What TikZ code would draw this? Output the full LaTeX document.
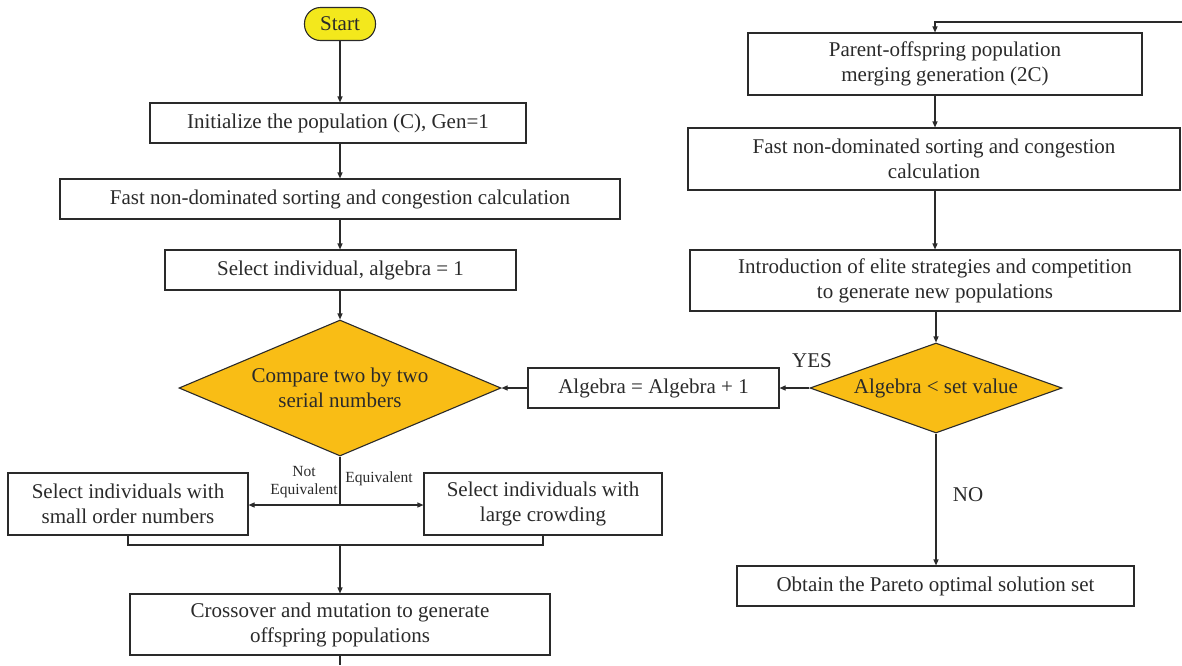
\documentclass[tikz,border=0pt]{standalone}
\usepackage{fontspec}
\setmainfont{Liberation Serif}
\usetikzlibrary{shapes.geometric,arrows.meta}
\definecolor{startyel}{HTML}{F3E81C}
\definecolor{diayel}{HTML}{F9BD15}
\definecolor{ln}{HTML}{2A2A2A}
\begin{document}
\begin{tikzpicture}[x=1pt,y=-1pt,
  every node/.style={font=\fontsize{21}{25}\selectfont, text=ln},
  box/.style={draw=ln, line width=1.1pt, rectangle, inner sep=0pt, align=center},
  dia/.style={draw=ln, line width=1.1pt, diamond, fill=diayel, inner sep=0pt},
  conn/.style={draw=ln, line width=1.1pt},
  arr/.style={conn, -{Triangle[length=6pt,width=5pt]}},
  small/.style={font=\fontsize{15.5}{18}\selectfont}
]
\useasboundingbox (0,0) rectangle (1182,665);
% left column
\node[box, rounded corners=16pt, fill=startyel, minimum width=71pt, minimum height=33pt] (start) at (340,24) {Start};
\node[box, minimum width=376pt, minimum height=40pt] (init) at (338,123) {Initialize the population (C), Gen=1};
\node[box, minimum width=560pt, minimum height=40pt] (fast1) at (340,199) {Fast non-dominated sorting and congestion calculation};
\node[box, minimum width=351pt, minimum height=40pt] (sel) at (340.5,270) {Select individual, algebra = 1};
\node[dia, minimum width=322pt, minimum height=136pt,
  label={[align=center]center:Compare two by two\\serial numbers}] (cmp) at (340,388) {};
\node[box, minimum width=240pt, minimum height=62pt] (smallb) at (128,504) {Select individuals with\\small order numbers};
\node[box, minimum width=238pt, minimum height=62pt] (large) at (543,504) {Select individuals with\\large crowding};
\node[box, minimum width=420pt, minimum height=61pt] (cross) at (340,624.5) {Crossover and mutation to generate\\offspring populations};
\coordinate (split) at (340,505);
\coordinate (merge) at (340,545);
\coordinate (bottomout) at (340,665);
% right column
\node[box, minimum width=394pt, minimum height=62pt] (parent) at (945,64) {Parent-offspring population\\merging generation (2C)};
\node[box, minimum width=492pt, minimum height=62pt] (fast2) at (934,159) {Fast non-dominated sorting and congestion\\calculation};
\node[box, minimum width=490pt, minimum height=61pt] (elite) at (935,280.5) {Introduction of elite strategies and competition\\to generate new populations};
\node[dia, minimum width=252pt, minimum height=90pt,
  label={center:Algebra < set value}] (alg) at (936,388) {};
\node[box, minimum width=251pt, minimum height=40pt] (inc) at (653.5,388) {Algebra = Algebra + 1};
\node[box, minimum width=397pt, minimum height=40pt] (obtain) at (935.5,586) {Obtain the Pareto optimal solution set};
\coordinate (topin) at (1182,22);
\coordinate (topcorner) at (935,22);
% connectors
\draw[arr] (start) -- (init.north -| start);
\draw[arr] (init.south -| start) -- (fast1.north -| start);
\draw[arr] (fast1.south -| start) -- (sel.north -| start);
\draw[arr] (sel.south -| start) -- (cmp.north);
\draw[conn] (cmp.south) -- (split);
\draw[arr] (split) -- (smallb.east |- split);
\draw[arr] (split) -- (large.west |- split);
\draw[conn] (smallb.south) |- (merge) -| (large.south);
\draw[arr] (merge) -- (cross.north -| merge);
\draw[conn] (cross.south -| merge) -- (bottomout);
\draw[arr] (topin) -- (topcorner) -- (parent.north -| topcorner);
\draw[arr] (parent.south -| topcorner) -- (fast2.north -| topcorner);
\draw[arr] (fast2.south -| topcorner) -- (elite.north -| topcorner);
\draw[arr] (elite.south -| alg) -- (alg.north);
\draw[arr] (alg.west) -- (inc.east);
\draw[arr] (inc.west) -- (cmp.east);
\draw[arr] (alg.south) -- (obtain.north -| alg);
% labels
\node[anchor=center] (yes) at (812,361) {YES};
\node[anchor=center] (no) at (968,495) {NO};
\node[small, align=center] (neq) at (304,482) {Not\\Equivalent};
\node[small] (eq) at (379,479) {Equivalent};
\end{tikzpicture}
\end{document}
